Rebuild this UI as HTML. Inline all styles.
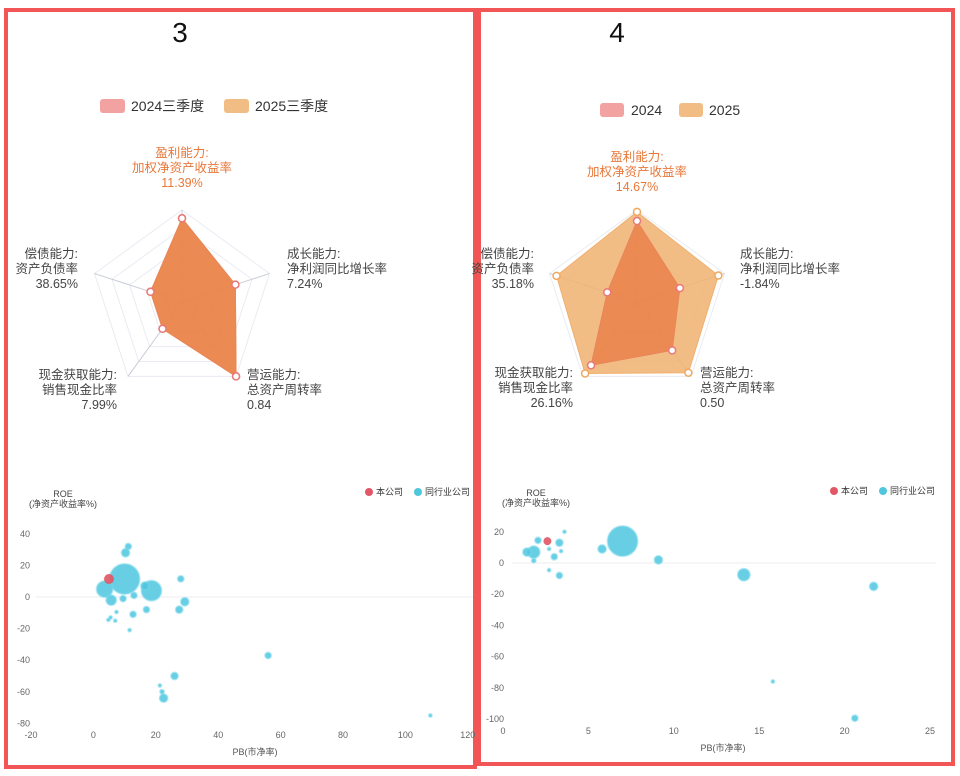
<!DOCTYPE html>
<html><head><meta charset="utf-8"><style>
body{margin:0;background:#fff;width:960px;height:776px;overflow:hidden;font-family:"Liberation Sans","Noto Sans CJK SC",sans-serif;}
svg{position:absolute;left:0;top:0}
</style></head><body>
<svg id="s" width="960" height="776">
<rect x="6" y="10" width="469" height="757" fill="none" stroke="#f25555" stroke-width="4"/>
<rect x="479" y="10" width="474" height="754" fill="none" stroke="#f25555" stroke-width="4"/>
<text x="180" y="42" font-size="28" text-anchor="middle" fill="#111">3</text>
<text x="617" y="42" font-size="28" text-anchor="middle" fill="#111">4</text>
<g font-size="14" fill="#333">
<rect x="100" y="99" width="25" height="14" rx="3" fill="#f2a3a1"/>
<text x="131" y="111">2024三季度</text>
<rect x="224" y="99" width="25" height="14" rx="3" fill="#f2bd85"/>
<text x="255" y="111">2025三季度</text>
<rect x="600" y="103" width="24" height="14" rx="3" fill="#f2a3a1"/>
<text x="631" y="115">2024</text>
<rect x="679" y="103" width="24" height="14" rx="3" fill="#f2bd85"/>
<text x="709" y="115">2025</text>
</g>
</svg>
<script>
const NS='http://www.w3.org/2000/svg';
const svg=document.getElementById('s');
function mk(t,a,p){const e=document.createElementNS(NS,t);for(const k in a)e.setAttribute(k,a[k]);(p||svg).appendChild(e);return e;}

// radar data (fraction of max)
const radarAxes=['盈利能力','成长能力','营运能力','现金获取能力','偿债能力'];
const left2024=[0.91,0.61,1.0,0.36,0.36];
const left2025=[0.91,0.61,1.0,0.36,0.36];
const right2024=[0.88,0.49,0.65,0.85,0.34];
const right2025=[0.98,0.93,0.95,0.96,0.92];

function radar(cx,cy,R,s1,s2,name){
  const ang=i=>(-90+72*i)*Math.PI/180;
  const pt=(i,f)=>[cx+R*f*Math.cos(ang(i)),cy+R*f*Math.sin(ang(i))];
  for(let l=1;l<=5;l++){
    const p=[0,1,2,3,4].map(i=>pt(i,l/5).join(',')).join(' ');
    const g=mk('polygon',{points:p,fill:'none',stroke:'#e8ecf2','stroke-width':1});
    
    
  }
  for(let i=0;i<5;i++){const e=pt(i,1);
    const l=mk('line',{x1:cx,y1:cy,x2:e[0],y2:e[1],stroke:'#c8ccd4','stroke-width':1});
    
    }
  [[s2,'rgba(240,178,112,0.85)','#f0b070','2025'],[s1,'rgba(233,125,70,0.8)','#e9855a','2024']].forEach(([s,f,st,n])=>{
    const p=s.map((v,i)=>pt(i,v).join(',')).join(' ');
    const poly=mk('polygon',{points:p,fill:f,stroke:st,'stroke-width':1});
    
    
    s.forEach((v,i)=>{const q=pt(i,v);
      const c=mk('circle',{cx:q[0],cy:q[1],r:3.5,fill:'#fff',stroke:n=='2024'?'#e8787a':'#f0a860','stroke-width':1.5});
      
      });
  });
}
radar(182,302,92,left2024,left2025,'radar-3');
radar(637,302,92,right2024,right2025,'radar-4');

function label(x,y,lines,anchor,color,name){
  const t=mk('text',{x:x,y:y,'font-size':12.5,'text-anchor':anchor,fill:color});
  
  
  lines.forEach((s,i)=>{const ts=mk('tspan',{x:x,dy:i?15:0},t);ts.textContent=s;});
}
label(182,157,['盈利能力:','加权净资产收益率','11.39%'],'middle','#e8783a','radar-3-label-profit');
label(287,258,['成长能力:','净利润同比增长率','7.24%'],'start','#444','radar-3-label-growth');
label(78,258,['偿债能力:','资产负债率','38.65%'],'end','#444','radar-3-label-solvency');
label(117,379,['现金获取能力:','销售现金比率','7.99%'],'end','#444','radar-3-label-cash');
label(247,379,['营运能力:','总资产周转率','0.84'],'start','#444','radar-3-label-operation');
label(637,161,['盈利能力:','加权净资产收益率','14.67%'],'middle','#e8783a','radar-4-label-profit');
label(740,258,['成长能力:','净利润同比增长率','-1.84%'],'start','#444','radar-4-label-growth');
label(534,258,['偿债能力:','资产负债率','35.18%'],'end','#444','radar-4-label-solvency');
label(573,377,['现金获取能力:','销售现金比率','26.16%'],'end','#444','radar-4-label-cash');
label(700,377,['营运能力:','总资产周转率','0.50'],'start','#444','radar-4-label-operation');

// scatter data
const lPB=[10,18.6,10.3,11.2,28,29.3,27.5,17,12.7,3.6,5.7,9.5,13,16.5,4.8,7,7.4,11.6,5.5,56,26,21.3,22.5,22,108];
const lROE=[11.4,4,28,32,11.5,-3,-8,-8,-11,5,-2,-1,1,7,-14.5,-15,-9.5,-21,-13,-37,-50,-56,-64,-60,-75];
const lSize=[15,10,4,3,3,4,3.5,3,3,8,5,3,3,4,1.5,1.5,1.5,1.5,1.5,3,3.5,1.5,4,2,1.5];
const lSelf=[5,11.4,5];
const lXTicks=[-20,0,20,40,60,80,100,120];
const lYTicks=[40,20,0,-20,-40,-60,-80];
const rPB=[7,2.05,1.8,1.4,3.3,3,1.8,5.8,9.1,3.3,2.7,3.6,3.4,2.7,14.1,21.7,15.8,20.6];
const rROE=[14,14.5,7,7,13,4,1.5,9,2,-8,-4.6,20,7.6,9,-7.5,-15,-76,-99.5];
const rSize=[15,3,6,4,3.5,3,2,4,4,3,1.5,1.5,1.5,1.5,6,4,1.5,3];
const rSelf=[2.6,14,4];
const rXTicks=[0,5,10,15,20,25];
const rYTicks=[20,0,-20,-40,-60,-80,-100];

function scatter(o){
  const X=v=>o.x0+(v-o.xmin)*o.xs, Y=v=>o.y0-v*o.ys;
  const z=mk('line',{x1:o.lineX1,y1:Y(0),x2:o.lineX2,y2:Y(0),stroke:'#eee','stroke-width':1});
  
  
  o.xt.forEach(v=>{const t=mk('text',{x:X(v),y:o.xly,'font-size':9,'text-anchor':'middle',fill:'#666'});t.textContent=v;
    
    });
  o.yt.forEach(v=>{const t=mk('text',{x:o.ylx,y:Y(v)+3,'font-size':9,'text-anchor':'end',fill:'#666'});t.textContent=v;
    
    });
  o.pb.forEach((p,i)=>{
    const c=mk('circle',{cx:X(p),cy:Y(o.roe[i]),r:o.sz[i],fill:'rgba(78,198,222,0.85)',stroke:'rgba(120,215,235,0.5)','stroke-width':2});
    
    
  });
  const s=mk('circle',{cx:X(o.self[0]),cy:Y(o.self[1]),r:o.self[2],fill:'rgba(225,85,100,0.9)'});
  
  
  const a=mk('text',{x:o.titleX,y:o.titleY,'font-size':9,'text-anchor':'middle',fill:'#444'});
  
  
  ['ROE','(净资产收益率%)'].forEach((t,i)=>{const ts=mk('tspan',{x:o.titleX,dy:i?10:0},a);ts.textContent=t;});
  const b=mk('text',{x:o.xtitleX,y:o.xtitleY,'font-size':9,'text-anchor':'middle',fill:'#555'});b.textContent='PB(市净率)';
  
  
  const d1=mk('circle',{cx:o.legX,cy:o.legY,r:4,fill:'#e25766'});
  
  
  const t1=mk('text',{x:o.legX+7,y:o.legY+3,'font-size':9,fill:'#333'});t1.textContent='本公司';
  
  
  const d2=mk('circle',{cx:o.legX+49,cy:o.legY,r:4,fill:'#4ec6de'});
  
  
  const t2=mk('text',{x:o.legX+56,y:o.legY+3,'font-size':9,fill:'#333'});t2.textContent='同行业公司';
  
  
}
scatter({name:'scatter-3',x0:31,xmin:-20,xs:3.12,y0:597,ys:1.58,pb:lPB,roe:lROE,sz:lSize,self:lSelf,xt:lXTicks,yt:lYTicks,
  xly:738,ylx:30,lineX1:36,lineX2:473,titleX:63,titleY:497,xtitleX:255,xtitleY:755,legX:369,legY:492});
scatter({name:'scatter-4',x0:503,xmin:0,xs:17.08,y0:563,ys:1.56,pb:rPB,roe:rROE,sz:rSize,self:rSelf,xt:rXTicks,yt:rYTicks,
  xly:734,ylx:504,lineX1:512,lineX2:936,titleX:536,titleY:496,xtitleX:723,xtitleY:751,legX:834,legY:491});
</script>
</body></html>
